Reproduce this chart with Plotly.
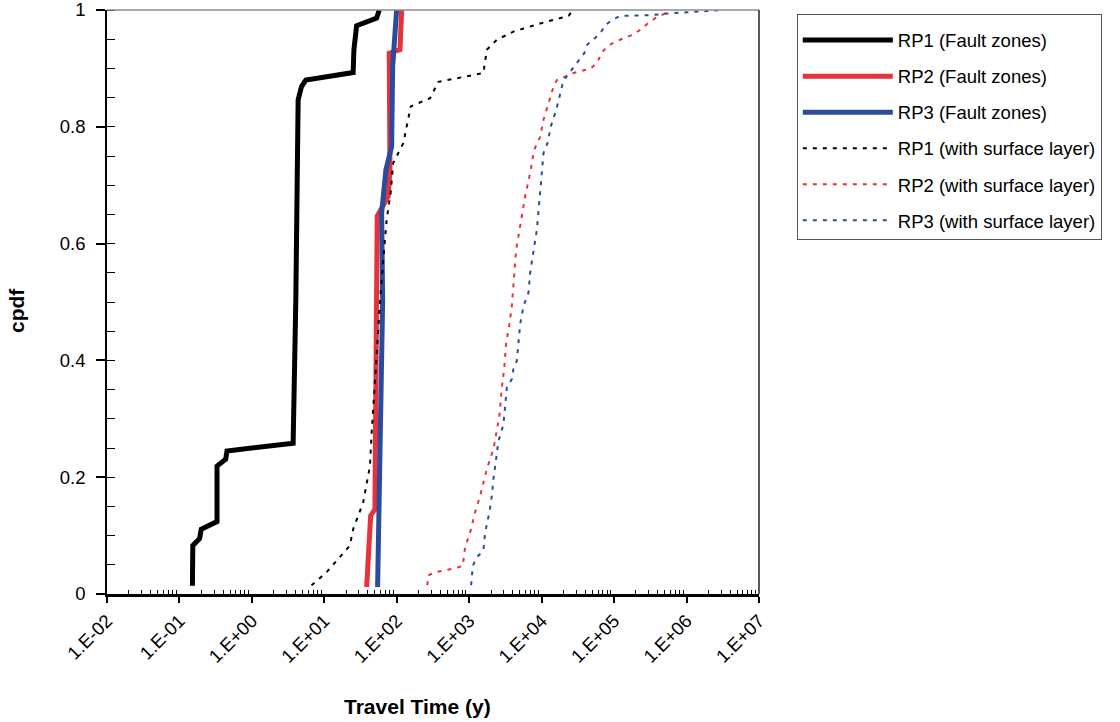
import plotly.graph_objects as go

# Travel time (years) and cumulative probability for each release point
rp1_fz_t = [0.151, 0.153, 0.190, 0.200, 0.330, 0.330, 0.435, 0.453, 3.71, 4.04, 4.35, 4.84, 5.55,
            25.0, 25.6, 27.9, 52.7, 57.3]
rp1_fz_p = [0.014, 0.083, 0.095, 0.111, 0.124, 0.219, 0.231, 0.245, 0.258, 0.504, 0.846, 0.869, 0.880,
            0.893, 0.932, 0.973, 0.986, 1.0]

rp2_fz_t = [38.4, 43.6, 49.9, 52.7, 53.7, 76.2, 80.5, 78.7, 110.7, 116.7]
rp2_fz_p = [0.012, 0.134, 0.145, 0.504, 0.647, 0.681, 0.726, 0.926, 0.932, 1.0]

rp3_fz_t = [54.4, 63.8, 61.8, 70.8, 84.9, 87.7, 99.6]
rp3_fz_p = [0.012, 0.504, 0.652, 0.726, 0.766, 0.903, 1.0]

rp1_sl_t = [6.65, 10.7, 22.5, 25.0, 34.4, 42.6, 45.0, 49.9, 55.5, 58.5, 59.8, 72.4, 82.3, 89.3,
            123, 156, 288, 375, 1570, 1750, 2404, 4074, 9550, 23500, 27000]
rp1_sl_p = [0.015, 0.037, 0.083, 0.111, 0.157, 0.219, 0.276, 0.362, 0.448, 0.504, 0.516, 0.641, 0.687,
            0.738, 0.772, 0.835, 0.849, 0.877, 0.892, 0.932, 0.949, 0.963, 0.977, 0.990, 1.0]

rp2_sl_t = [264, 272, 356, 637, 815, 877, 1028, 1205, 1413, 1750, 2158, 2350, 2612, 2818, 3034, 3236,
            3589, 3873, 4000, 4446, 5047, 5916, 6934, 7889, 9550, 10600, 12420, 14590, 16220, 27540,
            47860, 59160, 66530, 79800, 103800, 176600, 230100, 285100, 370700, 483100, 566200]
rp2_sl_p = [0.015, 0.032, 0.038, 0.044, 0.048, 0.080, 0.105, 0.140, 0.168, 0.214, 0.248, 0.276, 0.305,
            0.353, 0.385, 0.430, 0.462, 0.493, 0.516, 0.590, 0.630, 0.681, 0.721, 0.761, 0.783, 0.812,
            0.840, 0.869, 0.880, 0.892, 0.900, 0.911, 0.926, 0.937, 0.946, 0.957, 0.966, 0.976, 0.986,
            0.993, 1.0]

rp3_sl_t = [1062, 1119, 1271, 1570, 1656, 1901, 2051, 2158, 2350, 2529, 2754, 2965, 3133, 3304, 3873,
            4074, 4539, 4775, 5047, 5610, 6577, 6934, 7709, 8590, 9333, 10070, 10600, 12020, 13400,
            15890, 18030, 20040, 22340, 27040, 32280, 38730, 42170, 52000, 64420, 75510, 93540,
            121900, 316200, 538300, 1256000, 3105000]
rp3_sl_p = [0.015, 0.048, 0.063, 0.074, 0.105, 0.140, 0.168, 0.197, 0.231, 0.262, 0.276, 0.291, 0.322,
            0.353, 0.368, 0.385, 0.399, 0.430, 0.462, 0.493, 0.516, 0.550, 0.584, 0.624, 0.675, 0.732,
            0.755, 0.772, 0.801, 0.829, 0.858, 0.880, 0.887, 0.900, 0.912, 0.926, 0.940, 0.950, 0.960,
            0.974, 0.983, 0.990, 0.991, 0.994, 0.997, 1.0]

x_tick_vals = [1e-2, 1e-1, 1e0, 1e1, 1e2, 1e3, 1e4, 1e5, 1e6, 1e7]
x_tick_text = ["1.E-02", "1.E-01", "1.E+00", "1.E+01", "1.E+02", "1.E+03", "1.E+04", "1.E+05",
               "1.E+06", "1.E+07"]
y_tick_vals = [0, 0.2, 0.4, 0.6, 0.8, 1.0]
y_tick_text = ["0", "0.2", "0.4", "0.6", "0.8", "1"]

BLACK = "#000000"
RED = "#E6323A"
BLUE = "#2B4C9C"
FONT = "Liberation Sans, Arial, sans-serif"

series = [
    ("RP1 (Fault zones)", rp1_fz_t, rp1_fz_p, BLACK, 5, "solid"),
    ("RP2 (Fault zones)", rp2_fz_t, rp2_fz_p, RED, 5, "solid"),
    ("RP3 (Fault zones)", rp3_fz_t, rp3_fz_p, BLUE, 5, "solid"),
    ("RP1 (with surface layer)", rp1_sl_t, rp1_sl_p, BLACK, 2, "4px,6px"),
    ("RP2 (with surface layer)", rp2_sl_t, rp2_sl_p, RED, 2, "4px,6px"),
    ("RP3 (with surface layer)", rp3_sl_t, rp3_sl_p, BLUE, 2, "4px,6px"),
]

fig = go.Figure()
for i, (name, t, p, color, width, dash) in enumerate(series):
    fig.add_trace(go.Scatter(
        x=t, y=p, mode="lines", name=name, legendgroup=f"g{i}",
        line=dict(color=color, width=width, dash=dash),
    ))

minor_x = [m * 10.0 ** e for e in range(-2, 7) for m in range(2, 10)]

fig.update_layout(
    width=1120, height=722,
    margin=dict(l=107, r=361, t=10, b=128),
    paper_bgcolor="white", plot_bgcolor="white",
    font=dict(family=FONT, size=18, color="black"),
    showlegend=True,
    legend=dict(
        x=1.058, y=0.993, xanchor="left", yanchor="top",
        bordercolor="#555555", borderwidth=1,
        font=dict(family=FONT, size=18.5, color="black"),
        title=dict(text=" ", font=dict(size=5)),
        itemwidth=90, tracegroupgap=9,
    ),
    xaxis=dict(
        type="log", range=[-2, 7], automargin=False,
        showgrid=False, zeroline=False,
        showline=True, linecolor="black", linewidth=2.5,
        tickmode="array", tickvals=x_tick_vals, ticktext=x_tick_text,
        ticks="outside", ticklen=6, tickwidth=1.5, tickcolor="black",
        tickangle=-45, tickfont=dict(family=FONT, size=18.5),
        ticklabeloverflow="allow",
        minor=dict(tickvals=minor_x, ticks="inside", ticklen=4, tickwidth=1, tickcolor="black",
                   showgrid=False),
    ),
    yaxis=dict(
        range=[0, 1], automargin=False,
        showgrid=False, zeroline=False,
        showline=True, linecolor="black", linewidth=1.5,
        tickmode="array", tickvals=y_tick_vals, ticktext=y_tick_text,
        ticks="outside", ticklen=9, tickwidth=1.5, tickcolor="black",
        ticklabelstandoff=7, ticklabeloverflow="allow",
        tickfont=dict(family=FONT, size=18.5),
        minor=dict(dtick=0.05, ticks="inside", ticklen=8, tickwidth=1, tickcolor="black",
                   showgrid=False),
    ),
    # inner halves of the major ticks
    xaxis2=dict(
        type="log", range=[-2, 7], overlaying="x", anchor="y", side="bottom", automargin=False,
        showgrid=False, zeroline=False, showline=False, showticklabels=False,
        tickmode="array", tickvals=x_tick_vals,
        ticks="inside", ticklen=6, tickwidth=1.5, tickcolor="black",
    ),
    yaxis2=dict(
        range=[0, 1], overlaying="y", anchor="x", side="left", automargin=False,
        showgrid=False, zeroline=False, showline=False, showticklabels=False,
        tickmode="array", tickvals=y_tick_vals,
        ticks="inside", ticklen=10, tickwidth=1.5, tickcolor="black",
    ),
    shapes=[
        dict(type="line", xref="paper", yref="paper", x0=0, x1=1, y0=1, y1=1,
             line=dict(color="#8C8C8C", width=1.5)),
        dict(type="line", xref="paper", yref="paper", x0=1, x1=1, y0=0, y1=1,
             line=dict(color="#222222", width=1.5)),
    ],
    annotations=[
        dict(text="<b>cpdf</b>", xref="paper", yref="paper", x=-0.138, y=0.4846,
             textangle=-90, showarrow=False, font=dict(family=FONT, size=21),
             xanchor="center", yanchor="middle"),
        dict(text="<b>Travel Time (y)</b>", xref="paper", yref="paper", x=0.476, y=-0.192,
             showarrow=False, font=dict(family=FONT, size=21),
             xanchor="center", yanchor="middle"),
    ],
)

fig.write_html("out.html")
